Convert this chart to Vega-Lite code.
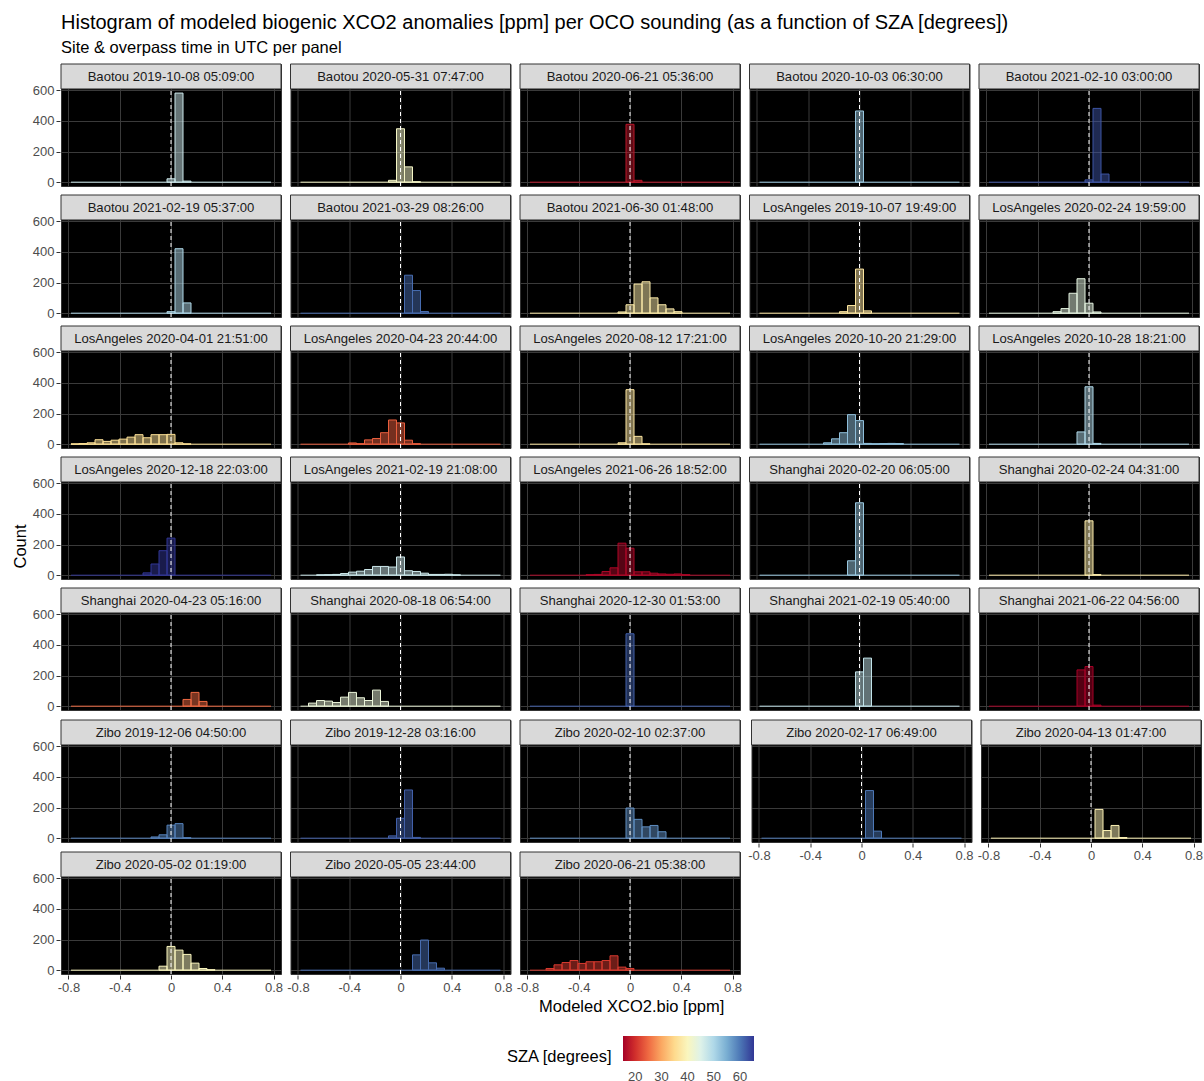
{
"$schema": "https://vega.github.io/schema/vega-lite/v6.json",
"background": "white",
"padding": {"left": 12, "top": 12, "right": 4, "bottom": 4},
"title": {"text": "Histogram of modeled biogenic XCO2 anomalies [ppm] per OCO sounding (as a function of SZA [degrees])", "subtitle": "Site & overpass time in UTC per panel", "anchor": "start", "frame": "group", "font": "Liberation Sans", "fontSize": 20, "fontWeight": "normal", "color": "black", "subtitleFont": "Liberation Sans", "subtitleFontSize": 16.5, "subtitleColor": "black", "subtitlePadding": 7, "offset": 7},
"datasets": {"panels": [
{"p":1,"label":"Baotou 2019-10-08 05:09:00","sza":47},
{"p":2,"label":"Baotou 2020-05-31 07:47:00","sza":41},
{"p":3,"label":"Baotou 2020-06-21 05:36:00","sza":17.5},
{"p":4,"label":"Baotou 2020-10-03 06:30:00","sza":52},
{"p":5,"label":"Baotou 2021-02-10 03:00:00","sza":63},
{"p":6,"label":"Baotou 2021-02-19 05:37:00","sza":50},
{"p":7,"label":"Baotou 2021-03-29 08:26:00","sza":61},
{"p":8,"label":"Baotou 2021-06-30 01:48:00","sza":38},
{"p":9,"label":"LosAngeles 2019-10-07 19:49:00","sza":37},
{"p":10,"label":"LosAngeles 2020-02-24 19:59:00","sza":44},
{"p":11,"label":"LosAngeles 2020-04-01 21:51:00","sza":36},
{"p":12,"label":"LosAngeles 2020-04-23 20:44:00","sza":24},
{"p":13,"label":"LosAngeles 2020-08-12 17:21:00","sza":37},
{"p":14,"label":"LosAngeles 2020-10-20 21:29:00","sza":53},
{"p":15,"label":"LosAngeles 2020-10-28 18:21:00","sza":50},
{"p":16,"label":"LosAngeles 2020-12-18 22:03:00","sza":65.4},
{"p":17,"label":"LosAngeles 2021-02-19 21:08:00","sza":47},
{"p":18,"label":"LosAngeles 2021-06-26 18:52:00","sza":16},
{"p":19,"label":"Shanghai 2020-02-20 06:05:00","sza":52},
{"p":20,"label":"Shanghai 2020-02-24 04:31:00","sza":38},
{"p":21,"label":"Shanghai 2020-04-23 05:16:00","sza":25},
{"p":22,"label":"Shanghai 2020-08-18 06:54:00","sza":43},
{"p":23,"label":"Shanghai 2020-12-30 01:53:00","sza":62},
{"p":24,"label":"Shanghai 2021-02-19 05:40:00","sza":48},
{"p":25,"label":"Shanghai 2021-06-22 04:56:00","sza":15.3},
{"p":26,"label":"Zibo 2019-12-06 04:50:00","sza":59},
{"p":27,"label":"Zibo 2019-12-28 03:16:00","sza":62},
{"p":28,"label":"Zibo 2020-02-10 02:37:00","sza":58},
{"p":29,"label":"Zibo 2020-02-17 06:49:00","sza":60},
{"p":30,"label":"Zibo 2020-04-13 01:47:00","sza":39},
{"p":31,"label":"Zibo 2020-05-02 01:19:00","sza":40},
{"p":32,"label":"Zibo 2020-05-05 23:44:00","sza":61},
{"p":33,"label":"Zibo 2020-06-21 05:38:00","sza":21}
]},
"data": {"values": [
{"p":1,"lo":-0.0312,"hi":0.0312,"n":22},
{"p":1,"lo":0.0312,"hi":0.0936,"n":582},
{"p":1,"lo":0.0936,"hi":0.156,"n":7},
{"p":2,"lo":-0.0936,"hi":-0.0312,"n":12},
{"p":2,"lo":-0.0312,"hi":0.0312,"n":349},
{"p":2,"lo":0.0312,"hi":0.0936,"n":100},
{"p":2,"lo":0.0936,"hi":0.156,"n":3},
{"p":3,"lo":-0.0312,"hi":0.0312,"n":378},
{"p":3,"lo":0.0312,"hi":0.0936,"n":12},
{"p":4,"lo":-0.0312,"hi":0.0312,"n":465},
{"p":5,"lo":-0.0312,"hi":0.0312,"n":15},
{"p":5,"lo":0.0312,"hi":0.0936,"n":482},
{"p":5,"lo":0.0936,"hi":0.156,"n":53},
{"p":6,"lo":-0.0312,"hi":0.0312,"n":10},
{"p":6,"lo":0.0312,"hi":0.0936,"n":421},
{"p":6,"lo":0.0936,"hi":0.156,"n":67},
{"p":7,"lo":0.0312,"hi":0.0936,"n":248},
{"p":7,"lo":0.0936,"hi":0.156,"n":148},
{"p":7,"lo":0.156,"hi":0.2184,"n":11},
{"p":8,"lo":-0.0936,"hi":-0.0312,"n":8},
{"p":8,"lo":-0.0312,"hi":0.0312,"n":55},
{"p":8,"lo":0.0312,"hi":0.0936,"n":190},
{"p":8,"lo":0.0936,"hi":0.156,"n":205},
{"p":8,"lo":0.156,"hi":0.2184,"n":100},
{"p":8,"lo":0.2184,"hi":0.2808,"n":55},
{"p":8,"lo":0.2808,"hi":0.3432,"n":28},
{"p":8,"lo":0.3432,"hi":0.4056,"n":10},
{"p":9,"lo":-0.156,"hi":-0.0936,"n":10},
{"p":9,"lo":-0.0936,"hi":-0.0312,"n":50},
{"p":9,"lo":-0.0312,"hi":0.0312,"n":288},
{"p":9,"lo":0.0312,"hi":0.0936,"n":15},
{"p":10,"lo":-0.2808,"hi":-0.2184,"n":10},
{"p":10,"lo":-0.2184,"hi":-0.156,"n":30},
{"p":10,"lo":-0.156,"hi":-0.0936,"n":130},
{"p":10,"lo":-0.0936,"hi":-0.0312,"n":225},
{"p":10,"lo":-0.0312,"hi":0.0312,"n":65},
{"p":10,"lo":0.0312,"hi":0.0936,"n":8},
{"p":11,"lo":-0.78,"hi":-0.7176,"n":2},
{"p":11,"lo":-0.7176,"hi":-0.6552,"n":4},
{"p":11,"lo":-0.6552,"hi":-0.5928,"n":9},
{"p":11,"lo":-0.5928,"hi":-0.5304,"n":29},
{"p":11,"lo":-0.5304,"hi":-0.468,"n":18},
{"p":11,"lo":-0.468,"hi":-0.4056,"n":26},
{"p":11,"lo":-0.4056,"hi":-0.3432,"n":33},
{"p":11,"lo":-0.3432,"hi":-0.2808,"n":46},
{"p":11,"lo":-0.2808,"hi":-0.2184,"n":62},
{"p":11,"lo":-0.2184,"hi":-0.156,"n":42},
{"p":11,"lo":-0.156,"hi":-0.0936,"n":62},
{"p":11,"lo":-0.0936,"hi":-0.0312,"n":62},
{"p":11,"lo":-0.0312,"hi":0.0312,"n":64},
{"p":11,"lo":0.0312,"hi":0.0936,"n":9},
{"p":11,"lo":0.0936,"hi":0.156,"n":2},
{"p":12,"lo":-0.4056,"hi":-0.3432,"n":8},
{"p":12,"lo":-0.3432,"hi":-0.2808,"n":3},
{"p":12,"lo":-0.2808,"hi":-0.2184,"n":28},
{"p":12,"lo":-0.2184,"hi":-0.156,"n":37},
{"p":12,"lo":-0.156,"hi":-0.0936,"n":75},
{"p":12,"lo":-0.0936,"hi":-0.0312,"n":158},
{"p":12,"lo":-0.0312,"hi":0.0312,"n":139},
{"p":12,"lo":0.0312,"hi":0.0936,"n":26},
{"p":12,"lo":0.0936,"hi":0.156,"n":3},
{"p":13,"lo":-0.0936,"hi":-0.0312,"n":9},
{"p":13,"lo":-0.0312,"hi":0.0312,"n":356},
{"p":13,"lo":0.0312,"hi":0.0936,"n":51},
{"p":13,"lo":0.0936,"hi":0.156,"n":2},
{"p":14,"lo":-0.2808,"hi":-0.2184,"n":9},
{"p":14,"lo":-0.2184,"hi":-0.156,"n":35},
{"p":14,"lo":-0.156,"hi":-0.0936,"n":75},
{"p":14,"lo":-0.0936,"hi":-0.0312,"n":193},
{"p":14,"lo":-0.0312,"hi":0.0312,"n":154},
{"p":14,"lo":0.0312,"hi":0.0936,"n":5},
{"p":14,"lo":0.0936,"hi":0.156,"n":3},
{"p":14,"lo":0.156,"hi":0.2184,"n":4},
{"p":14,"lo":0.2184,"hi":0.2808,"n":5},
{"p":14,"lo":0.2808,"hi":0.3432,"n":4},
{"p":15,"lo":-0.0936,"hi":-0.0312,"n":80},
{"p":15,"lo":-0.0312,"hi":0.0312,"n":375},
{"p":15,"lo":0.0312,"hi":0.0936,"n":5},
{"p":16,"lo":-0.2184,"hi":-0.156,"n":15},
{"p":16,"lo":-0.156,"hi":-0.0936,"n":73},
{"p":16,"lo":-0.0936,"hi":-0.0312,"n":160},
{"p":16,"lo":-0.0312,"hi":0.0312,"n":242},
{"p":17,"lo":-0.6552,"hi":-0.5928,"n":2},
{"p":17,"lo":-0.5928,"hi":-0.5304,"n":3},
{"p":17,"lo":-0.5304,"hi":-0.468,"n":5},
{"p":17,"lo":-0.468,"hi":-0.4056,"n":11},
{"p":17,"lo":-0.4056,"hi":-0.3432,"n":20},
{"p":17,"lo":-0.3432,"hi":-0.2808,"n":26},
{"p":17,"lo":-0.2808,"hi":-0.2184,"n":37},
{"p":17,"lo":-0.2184,"hi":-0.156,"n":57},
{"p":17,"lo":-0.156,"hi":-0.0936,"n":57},
{"p":17,"lo":-0.0936,"hi":-0.0312,"n":53},
{"p":17,"lo":-0.0312,"hi":0.0312,"n":119},
{"p":17,"lo":0.0312,"hi":0.0936,"n":29},
{"p":17,"lo":0.0936,"hi":0.156,"n":24},
{"p":17,"lo":0.156,"hi":0.2184,"n":13},
{"p":17,"lo":0.2184,"hi":0.2808,"n":5},
{"p":17,"lo":0.2808,"hi":0.3432,"n":5},
{"p":17,"lo":0.3432,"hi":0.4056,"n":6},
{"p":17,"lo":0.4056,"hi":0.468,"n":2},
{"p":18,"lo":-0.3432,"hi":-0.2808,"n":3},
{"p":18,"lo":-0.2808,"hi":-0.2184,"n":5},
{"p":18,"lo":-0.2184,"hi":-0.156,"n":24},
{"p":18,"lo":-0.156,"hi":-0.0936,"n":48},
{"p":18,"lo":-0.0936,"hi":-0.0312,"n":209},
{"p":18,"lo":-0.0312,"hi":0.0312,"n":176},
{"p":18,"lo":0.0312,"hi":0.0936,"n":22},
{"p":18,"lo":0.0936,"hi":0.156,"n":22},
{"p":18,"lo":0.156,"hi":0.2184,"n":13},
{"p":18,"lo":0.2184,"hi":0.2808,"n":8},
{"p":18,"lo":0.2808,"hi":0.3432,"n":6},
{"p":18,"lo":0.3432,"hi":0.4056,"n":8},
{"p":18,"lo":0.4056,"hi":0.468,"n":3},
{"p":19,"lo":-0.0936,"hi":-0.0312,"n":94},
{"p":19,"lo":-0.0312,"hi":0.0312,"n":473},
{"p":20,"lo":-0.0312,"hi":0.0312,"n":355},
{"p":20,"lo":0.0312,"hi":0.0936,"n":4},
{"p":21,"lo":0.0936,"hi":0.156,"n":44},
{"p":21,"lo":0.156,"hi":0.2184,"n":90},
{"p":21,"lo":0.2184,"hi":0.2808,"n":31},
{"p":22,"lo":-0.7176,"hi":-0.6552,"n":20},
{"p":22,"lo":-0.6552,"hi":-0.5928,"n":37},
{"p":22,"lo":-0.5928,"hi":-0.5304,"n":33},
{"p":22,"lo":-0.5304,"hi":-0.468,"n":24},
{"p":22,"lo":-0.468,"hi":-0.4056,"n":59},
{"p":22,"lo":-0.4056,"hi":-0.3432,"n":90},
{"p":22,"lo":-0.3432,"hi":-0.2808,"n":55},
{"p":22,"lo":-0.2808,"hi":-0.2184,"n":37},
{"p":22,"lo":-0.2184,"hi":-0.156,"n":105},
{"p":22,"lo":-0.156,"hi":-0.0936,"n":31},
{"p":23,"lo":-0.0312,"hi":0.0312,"n":473},
{"p":24,"lo":-0.0312,"hi":0.0312,"n":224},
{"p":24,"lo":0.0312,"hi":0.0936,"n":314},
{"p":25,"lo":-0.0936,"hi":-0.0312,"n":237},
{"p":25,"lo":-0.0312,"hi":0.0312,"n":259},
{"p":25,"lo":0.0312,"hi":0.0936,"n":7},
{"p":26,"lo":-0.156,"hi":-0.0936,"n":8},
{"p":26,"lo":-0.0936,"hi":-0.0312,"n":22},
{"p":26,"lo":-0.0312,"hi":0.0312,"n":85},
{"p":26,"lo":0.0312,"hi":0.0936,"n":95},
{"p":26,"lo":0.0936,"hi":0.156,"n":3},
{"p":27,"lo":-0.0936,"hi":-0.0312,"n":15},
{"p":27,"lo":-0.0312,"hi":0.0312,"n":130},
{"p":27,"lo":0.0312,"hi":0.0936,"n":315},
{"p":27,"lo":0.0936,"hi":0.156,"n":5},
{"p":28,"lo":-0.0312,"hi":0.0312,"n":197},
{"p":28,"lo":0.0312,"hi":0.0936,"n":123},
{"p":28,"lo":0.0936,"hi":0.156,"n":74},
{"p":28,"lo":0.156,"hi":0.2184,"n":83},
{"p":28,"lo":0.2184,"hi":0.2808,"n":42},
{"p":29,"lo":0.0312,"hi":0.0936,"n":311},
{"p":29,"lo":0.0936,"hi":0.156,"n":46},
{"p":30,"lo":0.0312,"hi":0.0936,"n":188},
{"p":30,"lo":0.0936,"hi":0.156,"n":50},
{"p":30,"lo":0.156,"hi":0.2184,"n":83},
{"p":30,"lo":0.2184,"hi":0.2808,"n":4},
{"p":31,"lo":-0.0936,"hi":-0.0312,"n":26},
{"p":31,"lo":-0.0312,"hi":0.0312,"n":155},
{"p":31,"lo":0.0312,"hi":0.0936,"n":131},
{"p":31,"lo":0.0936,"hi":0.156,"n":103},
{"p":31,"lo":0.156,"hi":0.2184,"n":46},
{"p":31,"lo":0.2184,"hi":0.2808,"n":11},
{"p":31,"lo":0.2808,"hi":0.3432,"n":3},
{"p":32,"lo":0.0936,"hi":0.156,"n":100},
{"p":32,"lo":0.156,"hi":0.2184,"n":197},
{"p":32,"lo":0.2184,"hi":0.2808,"n":48},
{"p":32,"lo":0.2808,"hi":0.3432,"n":13},
{"p":33,"lo":-0.6552,"hi":-0.5928,"n":11},
{"p":33,"lo":-0.5928,"hi":-0.5304,"n":35},
{"p":33,"lo":-0.5304,"hi":-0.468,"n":50},
{"p":33,"lo":-0.468,"hi":-0.4056,"n":63},
{"p":33,"lo":-0.4056,"hi":-0.3432,"n":44},
{"p":33,"lo":-0.3432,"hi":-0.2808,"n":55},
{"p":33,"lo":-0.2808,"hi":-0.2184,"n":55},
{"p":33,"lo":-0.2184,"hi":-0.156,"n":63},
{"p":33,"lo":-0.156,"hi":-0.0936,"n":94},
{"p":33,"lo":-0.0936,"hi":-0.0312,"n":20},
{"p":33,"lo":-0.0312,"hi":0.0312,"n":11}
]},
"transform": [{"lookup": "p", "from": {"data": {"name": "panels"}, "key": "p", "fields": ["label", "sza"]}}],
"vconcat": [
 {"title": {"text": "Modeled XCO2.bio [ppm]", "orient": "bottom", "anchor": "middle", "frame": "bounds", "font": "Liberation Sans", "fontSize": 16.5, "fontWeight": "normal", "color": "black", "offset": 5, "dx": 24},
  "vconcat": [
   {"title": {"text": "Count", "orient": "left", "anchor": "middle", "frame": "bounds", "font": "Liberation Sans", "fontSize": 16.5, "fontWeight": "normal", "color": "black", "offset": 3, "dx": -18},
    "spacing": 5,
    "vconcat": [
     {"transform": [{"filter": "datum.p <= 25"}],
      "facet": {"field": "label", "type": "nominal", "header": {"labels": false, "labelExpr": "''", "labelFontSize": 0, "labelPadding": 0, "title": null}},
      "columns": 5,
      "spacing": {"row": 7, "column": 7.5},
      "spec": {"width": 220, "height": 122, "layer": [
        {"mark": {"type": "rect", "fillOpacity": 0.5, "strokeWidth": 0},
         "encoding": {
           "x": {"field": "lo", "type": "quantitative", "scale": {"domain": [-0.858, 0.858], "nice": false, "zero": false}, "axis": {"values": [-0.8,-0.6,-0.4,-0.2,0,0.2,0.4,0.6,0.8], "labels": false, "ticks": false, "title": null}},
           "x2": {"field": "hi"},
           "y": {"field": "n", "type": "quantitative", "scale": {"domain": [-25, 772], "nice": false, "zero": false}, "axis": {"values": [0,200,400,600], "title": null}},
           "y2": {"datum": 0},
           "fill": {"field": "sza", "type": "quantitative", "title": "SZA [degrees]", "scale": {"scheme": "redyellowblue", "domain": [15.3, 65.4]}, "legend": {"values": [20,30,40,50,60]}}}},
        {"mark": {"type": "rect", "filled": false, "strokeWidth": 1},
         "encoding": {"x": {"field": "lo", "type": "quantitative"}, "x2": {"field": "hi"}, "y": {"field": "n", "type": "quantitative"}, "y2": {"datum": 0}, "stroke": {"field": "sza", "type": "quantitative", "scale": {"scheme": "redyellowblue", "domain": [15.3, 65.40001]}, "legend": null}}},
        {"transform": [{"aggregate": [{"op": "count", "as": "k"}], "groupby": ["label", "sza"]}],
         "mark": {"type": "rule", "strokeWidth": 1},
         "encoding": {"x": {"datum": -0.78}, "x2": {"datum": 0.78}, "y": {"datum": 0}, "stroke": {"field": "sza", "type": "quantitative", "scale": {"scheme": "redyellowblue", "domain": [15.3, 65.40001]}, "legend": null}}},
        {"transform": [{"aggregate": [{"op": "count", "as": "k"}], "groupby": ["label"]}],
         "mark": {"type": "rule", "color": "white", "strokeDash": [4, 3], "strokeWidth": 1},
         "encoding": {"x": {"datum": 0}, "y": {"datum": -25}, "y2": {"datum": 609}}},
        {"transform": [{"aggregate": [{"op": "count", "as": "k"}], "groupby": ["label"]}],
         "mark": {"type": "rect", "fill": "#d9d9d9", "stroke": "#333333", "strokeWidth": 1},
         "encoding": {"x": {"datum": -0.858}, "x2": {"datum": 0.858}, "y": {"datum": 609}, "y2": {"datum": 772}}},
        {"transform": [{"aggregate": [{"op": "count", "as": "k"}], "groupby": ["label"]}],
         "mark": {"type": "text", "fontSize": 13.1, "color": "#1a1a1a", "baseline": "middle", "align": "center", "font": "Liberation Sans"},
         "encoding": {"x": {"datum": 0}, "y": {"datum": 690}, "text": {"field": "label"}}}
      ]}},
     {"spacing": 5.5,
      "hconcat": [
       {"spacing": 5,
        "vconcat": [
         {"transform": [{"filter": "datum.p >= 26 && datum.p <= 28"}],
          "facet": {"field": "label", "type": "nominal", "header": {"labels": false, "labelExpr": "''", "labelFontSize": 0, "labelPadding": 0, "title": null}},
          "columns": 3,
          "spacing": {"row": 7, "column": 7.5},
          "spec": {"width": 220, "height": 122, "layer": [
            {"mark": {"type": "rect", "fillOpacity": 0.5, "strokeWidth": 0},
             "encoding": {
               "x": {"field": "lo", "type": "quantitative", "scale": {"domain": [-0.858, 0.858], "nice": false, "zero": false}, "axis": {"values": [-0.8,-0.6,-0.4,-0.2,0,0.2,0.4,0.6,0.8], "labels": false, "ticks": false, "title": null}},
               "x2": {"field": "hi"},
               "y": {"field": "n", "type": "quantitative", "scale": {"domain": [-25, 772], "nice": false, "zero": false}, "axis": {"values": [0,200,400,600], "title": null}},
               "y2": {"datum": 0},
               "fill": {"field": "sza", "type": "quantitative", "title": "SZA [degrees]", "scale": {"scheme": "redyellowblue", "domain": [15.3, 65.4]}, "legend": {"values": [20,30,40,50,60]}}}},
            {"mark": {"type": "rect", "filled": false, "strokeWidth": 1},
             "encoding": {"x": {"field": "lo", "type": "quantitative"}, "x2": {"field": "hi"}, "y": {"field": "n", "type": "quantitative"}, "y2": {"datum": 0}, "stroke": {"field": "sza", "type": "quantitative", "scale": {"scheme": "redyellowblue", "domain": [15.3, 65.40001]}, "legend": null}}},
            {"transform": [{"aggregate": [{"op": "count", "as": "k"}], "groupby": ["label", "sza"]}],
             "mark": {"type": "rule", "strokeWidth": 1},
             "encoding": {"x": {"datum": -0.78}, "x2": {"datum": 0.78}, "y": {"datum": 0}, "stroke": {"field": "sza", "type": "quantitative", "scale": {"scheme": "redyellowblue", "domain": [15.3, 65.40001]}, "legend": null}}},
            {"transform": [{"aggregate": [{"op": "count", "as": "k"}], "groupby": ["label"]}],
             "mark": {"type": "rule", "color": "white", "strokeDash": [4, 3], "strokeWidth": 1},
             "encoding": {"x": {"datum": 0}, "y": {"datum": -25}, "y2": {"datum": 609}}},
            {"transform": [{"aggregate": [{"op": "count", "as": "k"}], "groupby": ["label"]}],
             "mark": {"type": "rect", "fill": "#d9d9d9", "stroke": "#333333", "strokeWidth": 1},
             "encoding": {"x": {"datum": -0.858}, "x2": {"datum": 0.858}, "y": {"datum": 609}, "y2": {"datum": 772}}},
            {"transform": [{"aggregate": [{"op": "count", "as": "k"}], "groupby": ["label"]}],
             "mark": {"type": "text", "fontSize": 13.1, "color": "#1a1a1a", "baseline": "middle", "align": "center", "font": "Liberation Sans"},
             "encoding": {"x": {"datum": 0}, "y": {"datum": 690}, "text": {"field": "label"}}}
          ]}},
         {"transform": [{"filter": "datum.p >= 31"}],
          "facet": {"field": "label", "type": "nominal", "header": {"labels": false, "labelExpr": "''", "labelFontSize": 0, "labelPadding": 0, "title": null}},
          "columns": 3,
          "spacing": {"row": 7, "column": 7.5},
          "spec": {"width": 220, "height": 122, "layer": [
            {"mark": {"type": "rect", "fillOpacity": 0.5, "strokeWidth": 0},
             "encoding": {
               "x": {"field": "lo", "type": "quantitative", "scale": {"domain": [-0.858, 0.858], "nice": false, "zero": false}, "axis": {"values": [-0.8,-0.6,-0.4,-0.2,0,0.2,0.4,0.6,0.8], "labelExpr": "toString(datum.value)", "labelOverlap": false, "labelSeparation": -30, "labelFlush": false, "title": null}},
               "x2": {"field": "hi"},
               "y": {"field": "n", "type": "quantitative", "scale": {"domain": [-25, 772], "nice": false, "zero": false}, "axis": {"values": [0,200,400,600], "title": null}},
               "y2": {"datum": 0},
               "fill": {"field": "sza", "type": "quantitative", "title": "SZA [degrees]", "scale": {"scheme": "redyellowblue", "domain": [15.3, 65.4]}, "legend": {"values": [20,30,40,50,60]}}}},
            {"mark": {"type": "rect", "filled": false, "strokeWidth": 1},
             "encoding": {"x": {"field": "lo", "type": "quantitative"}, "x2": {"field": "hi"}, "y": {"field": "n", "type": "quantitative"}, "y2": {"datum": 0}, "stroke": {"field": "sza", "type": "quantitative", "scale": {"scheme": "redyellowblue", "domain": [15.3, 65.40001]}, "legend": null}}},
            {"transform": [{"aggregate": [{"op": "count", "as": "k"}], "groupby": ["label", "sza"]}],
             "mark": {"type": "rule", "strokeWidth": 1},
             "encoding": {"x": {"datum": -0.78}, "x2": {"datum": 0.78}, "y": {"datum": 0}, "stroke": {"field": "sza", "type": "quantitative", "scale": {"scheme": "redyellowblue", "domain": [15.3, 65.40001]}, "legend": null}}},
            {"transform": [{"aggregate": [{"op": "count", "as": "k"}], "groupby": ["label"]}],
             "mark": {"type": "rule", "color": "white", "strokeDash": [4, 3], "strokeWidth": 1},
             "encoding": {"x": {"datum": 0}, "y": {"datum": -25}, "y2": {"datum": 609}}},
            {"transform": [{"aggregate": [{"op": "count", "as": "k"}], "groupby": ["label"]}],
             "mark": {"type": "rect", "fill": "#d9d9d9", "stroke": "#333333", "strokeWidth": 1},
             "encoding": {"x": {"datum": -0.858}, "x2": {"datum": 0.858}, "y": {"datum": 609}, "y2": {"datum": 772}}},
            {"transform": [{"aggregate": [{"op": "count", "as": "k"}], "groupby": ["label"]}],
             "mark": {"type": "text", "fontSize": 13.1, "color": "#1a1a1a", "baseline": "middle", "align": "center", "font": "Liberation Sans"},
             "encoding": {"x": {"datum": 0}, "y": {"datum": 690}, "text": {"field": "label"}}}
          ]}}
        ]},
       {"transform": [{"filter": "datum.p == 29 || datum.p == 30"}],
        "facet": {"field": "label", "type": "nominal", "header": {"labels": false, "labelExpr": "''", "labelFontSize": 0, "labelPadding": 0, "title": null}},
        "columns": 2,
        "spacing": {"row": 7, "column": 7.5},
        "spec": {"width": 220, "height": 122, "layer": [
          {"mark": {"type": "rect", "fillOpacity": 0.5, "strokeWidth": 0},
           "encoding": {
             "x": {"field": "lo", "type": "quantitative", "scale": {"domain": [-0.858, 0.858], "nice": false, "zero": false}, "axis": {"values": [-0.8,-0.6,-0.4,-0.2,0,0.2,0.4,0.6,0.8], "labelExpr": "toString(datum.value)", "labelOverlap": false, "labelSeparation": -30, "labelFlush": false, "title": null}},
             "x2": {"field": "hi"},
             "y": {"field": "n", "type": "quantitative", "scale": {"domain": [-25, 772], "nice": false, "zero": false}, "axis": {"values": [0,200,400,600], "labels": false, "ticks": false, "title": null}},
             "y2": {"datum": 0},
             "fill": {"field": "sza", "type": "quantitative", "title": "SZA [degrees]", "scale": {"scheme": "redyellowblue", "domain": [15.3, 65.4]}, "legend": {"values": [20,30,40,50,60]}}}},
          {"mark": {"type": "rect", "filled": false, "strokeWidth": 1},
           "encoding": {"x": {"field": "lo", "type": "quantitative"}, "x2": {"field": "hi"}, "y": {"field": "n", "type": "quantitative"}, "y2": {"datum": 0}, "stroke": {"field": "sza", "type": "quantitative", "scale": {"scheme": "redyellowblue", "domain": [15.3, 65.40001]}, "legend": null}}},
          {"transform": [{"aggregate": [{"op": "count", "as": "k"}], "groupby": ["label", "sza"]}],
           "mark": {"type": "rule", "strokeWidth": 1},
           "encoding": {"x": {"datum": -0.78}, "x2": {"datum": 0.78}, "y": {"datum": 0}, "stroke": {"field": "sza", "type": "quantitative", "scale": {"scheme": "redyellowblue", "domain": [15.3, 65.40001]}, "legend": null}}},
          {"transform": [{"aggregate": [{"op": "count", "as": "k"}], "groupby": ["label"]}],
           "mark": {"type": "rule", "color": "white", "strokeDash": [4, 3], "strokeWidth": 1},
           "encoding": {"x": {"datum": 0}, "y": {"datum": -25}, "y2": {"datum": 609}}},
          {"transform": [{"aggregate": [{"op": "count", "as": "k"}], "groupby": ["label"]}],
           "mark": {"type": "rect", "fill": "#d9d9d9", "stroke": "#333333", "strokeWidth": 1},
           "encoding": {"x": {"datum": -0.858}, "x2": {"datum": 0.858}, "y": {"datum": 609}, "y2": {"datum": 772}}},
          {"transform": [{"aggregate": [{"op": "count", "as": "k"}], "groupby": ["label"]}],
           "mark": {"type": "text", "fontSize": 13.1, "color": "#1a1a1a", "baseline": "middle", "align": "center", "font": "Liberation Sans"},
           "encoding": {"x": {"datum": 0}, "y": {"datum": 690}, "text": {"field": "label"}}}
        ]}}
      ]}
    ]}
  ]}
],
"config": {
  "font": "Liberation Sans",
  "header": {"labels": false},
  "view": {"fill": "black", "stroke": "#333333", "strokeWidth": 1},
  "axis": {"gridColor": "#3a3a3a", "gridWidth": 1, "domain": false, "tickColor": "#333333", "tickSize": 4, "labelColor": "#4d4d4d", "labelFontSize": 13, "labelFont": "Liberation Sans", "titleFont": "Liberation Sans", "titleFontSize": 16.5, "titleFontWeight": "normal", "titleColor": "black", "labelPadding": 2, "labelOverlap": false},
  "axisX": {"labelOverlap": false, "labelFlush": false, "labelSeparation": -30},
  "axisQuantitative": {"labelOverlap": false},
  "legend": {"orient": "none", "legendX": 446, "legendY": 972, "direction": "horizontal", "titleOrient": "left", "titleAnchor": "middle", "titleBaseline": "top", "gradientLength": 131, "gradientThickness": 25, "titleFont": "Liberation Sans", "titleFontSize": 16.5, "titleFontWeight": "normal", "titleColor": "black", "labelFontSize": 13, "labelColor": "#4d4d4d", "labelOffset": 16, "gradientLabelOffset": 10, "titlePadding": 10, "gradientStrokeWidth": 0}
}
}
